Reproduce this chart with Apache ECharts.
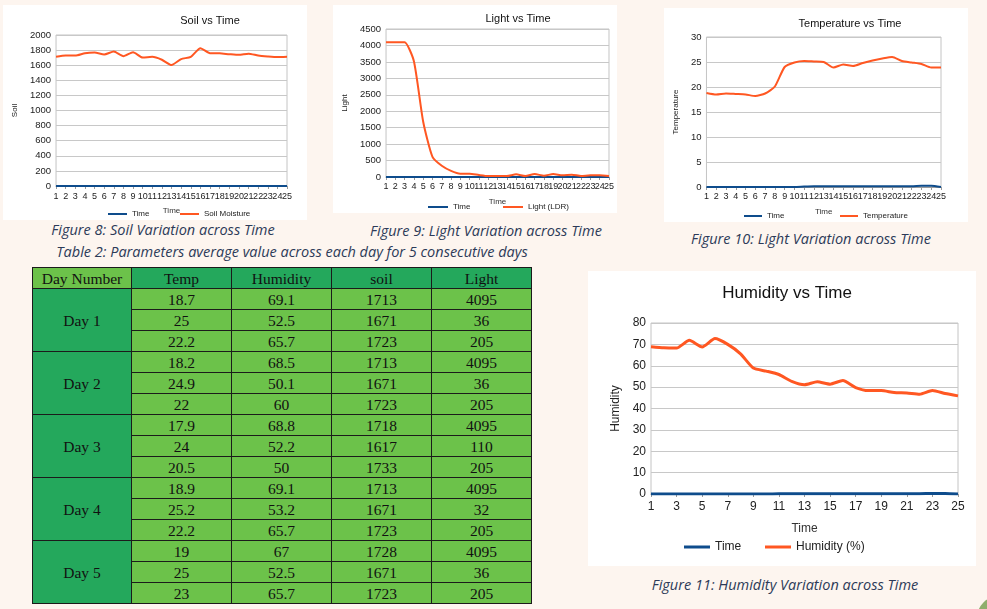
<!DOCTYPE html>
<html>
<head>
<meta charset="utf-8">
<script src="https://cdn.jsdelivr.net/npm/echarts@6/dist/echarts.min.js"></script>
<style>
  body { margin:0; width:987px; height:609px; background:#fdf5ef; position:relative; overflow:hidden; font-family:"Liberation Sans", Arial, sans-serif; }
  .panel { position:absolute; background:#fff; }
  .cap { position:absolute; font-family:"Open Sans", "Noto Sans", sans-serif; font-style:italic; color:#2c3a58; font-size:14.5px; white-space:nowrap; transform:translateX(-50%); }
  table { position:absolute; left:32px; top:267px; border-collapse:collapse; font-family:"Liberation Serif", "Times New Roman", serif; font-size:15.5px; color:#111; }
  td { border:1.5px solid #1b1b1b; text-align:center; height:20px; padding:0; line-height:19px; }
  td.h { background:#24a85c; }
  td.h0 { background:#6cc24a; }
  td.d { background:#24a85c; }
  td.v { background:#6cc24a; }
  .corner { position:absolute; left:977px; top:596px; width:30px; height:30px; background:#8fae6c; border-top-left-radius:22px; }
</style>
</head>
<body>
<div id="soil" class="panel" style="left:3px;top:5px;width:304px;height:215px"></div>
<div id="light" class="panel" style="left:333px;top:5px;width:284px;height:208px"></div>
<div id="temp" class="panel" style="left:664px;top:8px;width:304px;height:214px"></div>
<div id="hum" class="panel" style="left:588px;top:271px;width:388px;height:295px"></div>
<div class="corner"></div>

<div class="cap" style="left:163px;top:220px">Figure 8: Soil Variation across Time</div>
<div class="cap" style="left:486px;top:221px">Figure 9: Light Variation across Time</div>
<div class="cap" style="left:811px;top:229px">Figure 10: Light Variation across Time</div>
<div class="cap" style="left:292px;top:242px">Table 2: Parameters average value across each day for 5 consecutive days</div>
<div class="cap" style="left:785px;top:575px">Figure 11: Humidity Variation across Time</div>

<table id="tbl"></table>

<script>
// x axis: reading number
var timeLabels = ['1','2','3','4','5','6','7','8','9','10','11','12','13','14','15','16','17','18','19','20','21','22','23','24','25'];
// "Time" series (near zero)
var timeValues = [0.02,0.02,0.02,0.02,0.02,0.02,0.02,0.02,0.02,0.02,0.1,0.15,0.15,0.15,0.15,0.15,0.15,0.15,0.15,0.15,0.15,0.15,0.25,0.25,0];
var soilValues = [1711,1729,1727,1759,1768,1742,1781,1720,1772,1702,1711,1672,1602,1681,1711,1825,1759,1757,1746,1737,1753,1729,1716,1707,1711];
var lightValues = [4095,4095,4095,3520,1680,610,340,185,100,100,60,30,30,30,80,30,90,40,90,50,70,30,50,50,30];
var tempValues = [18.8,18.5,18.7,18.6,18.5,18.2,18.7,20.1,24.0,24.9,25.2,25.1,25.0,23.9,24.5,24.2,24.8,25.3,25.7,26.0,25.2,24.9,24.6,23.9,23.9];
var humValues = [68.9,68.4,68.3,71.9,68.8,72.7,70.0,65.6,58.9,57.5,55.9,52.7,51.1,52.5,51.4,53.1,49.8,48.4,48.4,47.5,47.3,46.7,48.4,47.0,45.9];

// table 2
var tableHeader = ['Day Number','Temp','Humidity','soil','Light'];
var dayNames = ['Day 1','Day 2','Day 3','Day 4','Day 5'];
var tblTemp = [[18.7,25,22.2],[18.2,24.9,22],[17.9,24,20.5],[18.9,25.2,22.2],[19,25,23]];
var tblHum = [[69.1,52.5,65.7],[68.5,50.1,60],[68.8,52.2,50],[69.1,53.2,65.7],[67,52.5,65.7]];
var tblSoil = [[1713,1671,1723],[1713,1671,1723],[1718,1617,1733],[1713,1671,1723],[1728,1671,1723]];
var tblLight = [[4095,36,205],[4095,36,205],[4095,110,205],[4095,32,205],[4095,36,205]];

var BLUE = '#0e4c8c', ORANGE = '#ff5722';

function lineChart(id, o) {
  var chart = echarts.init(document.getElementById(id));
  var fs = o.fs;
  chart.setOption({
    animation: false,
    textStyle: { fontFamily: 'Liberation Sans' },
    title: { text: o.title, left: o.titleX, top: o.titleY, textAlign: 'center',
      textStyle: { fontSize: o.titleSize, fontWeight: 'normal', color: '#111' } },
    legend: [
      { data: ['Time'], left: o.leg1, top: o.legY, itemWidth: o.legW, itemHeight: o.legH, icon: 'rect', itemGap: 2,
        textStyle: { fontSize: fs, color: '#222' }, padding: 0 },
      { data: [o.name], left: o.leg2, top: o.legY, itemWidth: o.legW, itemHeight: o.legH, icon: 'rect', itemGap: 2,
        textStyle: { fontSize: fs, color: '#222' }, padding: 0 }
    ],
    grid: { left: o.grid[0], right: o.grid[1], top: o.grid[2], bottom: o.grid[3], show: true, borderColor: '#c4c4c4', borderWidth: 1 },
    xAxis: { type: 'category', data: timeLabels, boundaryGap: false,
      name: 'Time', nameLocation: 'middle', nameGap: o.xNameGap,
      nameTextStyle: { fontSize: fs, color: '#333' },
      axisLine: { lineStyle: { color: '#9a9a9a' } },
      axisTick: { show: true, alignWithLabel: true, length: 3, lineStyle: { color: '#9a9a9a' } },
      axisLabel: { fontSize: o.tickSize, color: '#222', interval: o.xInterval, margin: o.xMargin } },
    yAxis: { type: 'value', min: 0, max: o.max, interval: o.step,
      name: o.yName, nameLocation: 'middle', nameGap: o.yNameGap,
      nameTextStyle: { fontSize: fs, color: '#222' },
      axisLine: { show: false }, axisTick: { show: false },
      splitLine: { lineStyle: { color: '#c8c8c8' } },
      axisLabel: { fontSize: o.yTickSize, color: '#222', margin: 5, formatter: function (v) { return String(v); } } },
    series: [
      { name: 'Time', type: 'line', data: timeValues, symbol: 'none', smooth: 0.2,
        color: BLUE, lineStyle: { width: o.lw, color: BLUE } },
      { name: o.name, type: 'line', data: o.data, symbol: 'none', smooth: 0.2,
        color: ORANGE, lineStyle: { width: o.lw, color: ORANGE } }
    ]
  });
}

lineChart('soil', { title: 'Soil vs Time', titleX: 202, titleY: 5, titleSize: 11, fs: 8, tickSize: 9, yTickSize: 9.5,
  grid: [45, 20, 30, 33], max: 2000, step: 200, yName: 'Soil', yNameGap: 33,
  xNameGap: 21, xMargin: 6, xInterval: 0, name: 'Soil Moisture', data: soilValues,
  leg1: 105, leg2: 177, legY: 205, legW: 19, legH: 2, lw: 2 });

lineChart('light', { title: 'Light vs Time', titleX: 180, titleY: 3, titleSize: 11, fs: 8, tickSize: 9, yTickSize: 9.5,
  grid: [41, 5, 24, 36], max: 4500, step: 500, yName: 'Light', yNameGap: 31,
  xNameGap: 21, xMargin: 5, xInterval: 0, name: 'Light (LDR)', data: lightValues,
  leg1: 95, leg2: 170, legY: 198, legW: 20, legH: 2, lw: 2 });

lineChart('temp', { title: 'Temperature vs Time', titleX: 181, titleY: 5, titleSize: 11, fs: 8, tickSize: 9, yTickSize: 9.5,
  grid: [30, 27, 29, 35], max: 30, step: 5, yName: 'Temperature', yNameGap: 22,
  xNameGap: 21, xMargin: 5, xInterval: 0, name: 'Temperature', data: tempValues,
  leg1: 80, leg2: 176, legY: 204, legW: 18, legH: 2, lw: 2 });

lineChart('hum', { title: 'Humidity vs Time', titleX: 194, titleY: 9, titleSize: 17, fs: 12, tickSize: 12, yTickSize: 12,
  grid: [63, 18, 52, 72], max: 80, step: 10, yName: 'Humidity', yNameGap: 27,
  xNameGap: 29, xMargin: 7, xInterval: 1, name: 'Humidity (%)', data: humValues,
  leg1: 96, leg2: 177, legY: 270, legW: 26, legH: 3, lw: 3 });

// build the table
var tbl = document.getElementById('tbl');
var html = '<tr>';
tableHeader.forEach(function (h, i) {
  html += '<td class="' + (i === 0 ? 'h0' : 'h') + '" style="width:' + (i === 0 ? 98 : 99) + 'px">' + h + '</td>';
});
html += '</tr>';
dayNames.forEach(function (d, di) {
  for (var r = 0; r < 3; r++) {
    html += '<tr>';
    if (r === 0) html += '<td class="d" rowspan="3">' + d + '</td>';
    html += '<td class="v">' + tblTemp[di][r] + '</td><td class="v">' + tblHum[di][r] + '</td><td class="v">' +
      tblSoil[di][r] + '</td><td class="v">' + tblLight[di][r] + '</td></tr>';
  }
});
tbl.innerHTML = html;
</script>
</body>
</html>
